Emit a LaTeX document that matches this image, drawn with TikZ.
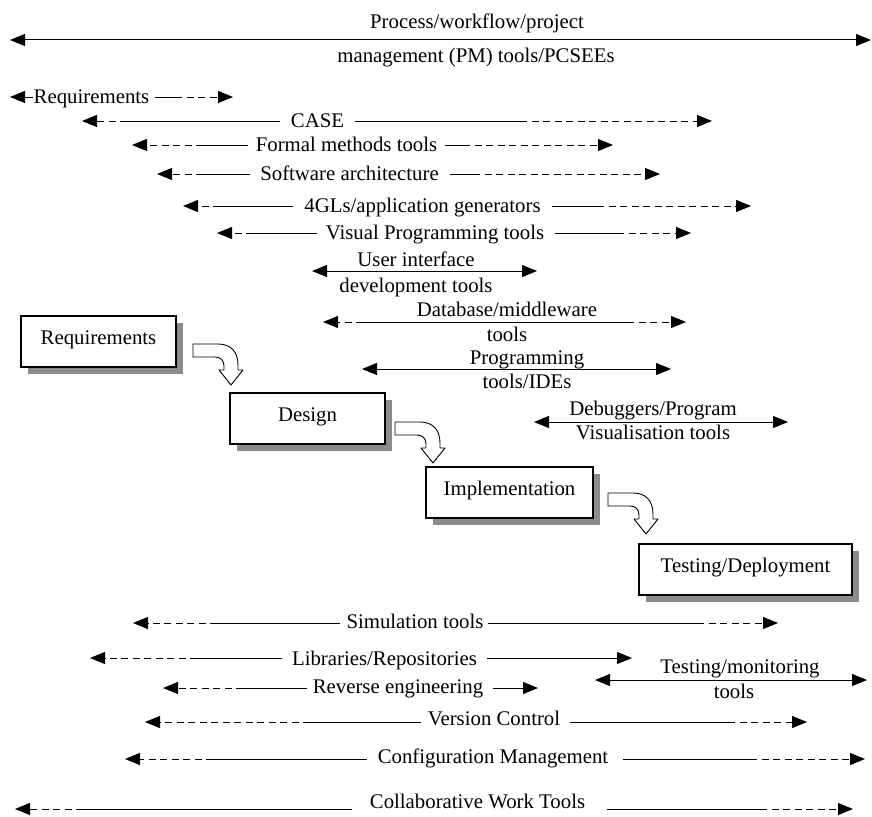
\documentclass[tikz,border=0pt]{standalone}
\usepackage{fontspec}
\setmainfont{Liberation Serif}
\newfontfamily\tnr{Liberation Serif}
\usetikzlibrary{arrows.meta,shadows}
\newcommand\trow[8]{%
 \coordinate (#1L) at (#3,#2); \coordinate (#1Ld) at (#4,#2); \coordinate (#1Ls) at (#5,#2);
 \coordinate (#1Rs) at (#6,#2); \coordinate (#1Rd) at (#7,#2); \coordinate (#1R) at (#8,#2);
 \draw[solidseg] (#1Ls) -- (#1Ld); \draw[dashseg,atip] (#1Ld) -- (#1L);
 \draw[solidseg] (#1Rs) -- (#1Rd); \draw[dashseg,atip] (#1Rd) -- (#1R);}
\begin{document}
\begin{tikzpicture}[x=1pt,y=-1pt,
  lbl/.style={font=\tnr\fontsize{20.8}{25}\selectfont, inner sep=0pt, anchor=base},
  solidseg/.style={line width=1pt},
  dashseg/.style={line width=1pt, dash pattern=on 7pt off 4.5pt},
  atip/.style={-{Triangle[length=15pt,width=12pt]}},
  dtip/.style={{Triangle[length=15pt,width=12pt]}-{Triangle[length=15pt,width=12pt]}},
  phase/.style={draw, line width=1.2pt, fill=white, font=\tnr\fontsize{20.8}{25}\selectfont,
    minimum height=51pt, text height=14pt, text depth=9pt, inner sep=0pt,
    drop shadow={shadow xshift=7pt, shadow yshift=-7pt, fill=black!45, opacity=1}},
  bentarrow/.pic={\draw[line width=0.9pt, fill=white, line join=round]
    (0,0) -- (25,0) .. controls (38,0) and (45,8) .. (45,21) -- (45,26) -- (50,26)
    -- (38,41) -- (26,26) -- (31,26) -- (31,22) .. controls (31,16) and (27,13) .. (22,13)
    -- (0,13) -- cycle;}
]
\fill[white] (0,0) rectangle (872,816);
\useasboundingbox (0,0) rectangle (872,816);

% PM tools
\node[lbl] (pm1) at (477,29) {Process/workflow/project};
\node[lbl] (pm2) at (476,63) {management (PM) tools/PCSEEs};
\coordinate (pmL) at (10,40); \coordinate (pmR) at (871,40);
\draw[solidseg,dtip] (pmL) -- (pmR);

% single-line tool rows
\node[lbl] (req) at (91.5,103.5) {Requirements};
\trow{req}{97}{10}{27}{33}{155}{175}{233}
\node[lbl] (case) at (317.5,127.5) {CASE};
\trow{case}{121}{82}{127}{280}{355}{520}{712}
\node[lbl] (fm) at (346.5,151.5) {Formal methods tools};
\trow{fm}{145}{132}{203}{248}{445}{463}{613}
\node[lbl] (sa) at (349.5,180.5) {Software architecture};
\trow{sa}{174}{157}{203}{250}{450}{473}{660}
\node[lbl] (fgl) at (422.5,212.5) {4GLs/application generators};
\trow{fgl}{206}{183}{220}{293}{552}{597}{751}
\node[lbl] (vp) at (435,239.5) {Visual Programming tools};
\trow{vp}{233}{217}{253}{317}{555}{617}{691}

% two-line rows
\node[lbl] (ui1) at (416,266) {User interface};
\node[lbl] (ui2) at (416,292) {development tools};
\coordinate (uiL) at (312,271); \coordinate (uiR) at (537,271);
\draw[solidseg,dtip] (uiL) -- (uiR);

\node[lbl] (db1) at (507,316.5) {Database/middleware};
\node[lbl] (db2) at (507,341.5) {tools};
\coordinate (dbL) at (323,322); \coordinate (dbLd) at (363,322);
\coordinate (dbRd) at (627,322); \coordinate (dbR) at (686,322);
\draw[dashseg,atip] (dbLd) -- (dbL);
\draw[solidseg] (dbLd) -- (dbRd);
\draw[dashseg,atip] (dbRd) -- (dbR);

\node[lbl] (pr1) at (527,364) {Programming};
\node[lbl] (pr2) at (527,388) {tools/IDEs};
\coordinate (prL) at (362,369); \coordinate (prR) at (671,369);
\draw[solidseg,dtip] (prL) -- (prR);

\node[lbl] (dg1) at (653,415) {Debuggers/Program};
\node[lbl] (dg2) at (653,439) {Visualisation tools};
\coordinate (dgL) at (534,422); \coordinate (dgR) at (788,422);
\draw[solidseg,dtip] (dgL) -- (dgR);

% phases
\node[phase, minimum width=155pt] (preq) at (98.5,341.5) {Requirements};
\node[phase, minimum width=155pt] (pdes) at (307.5,418.5) {Design};
\node[phase, minimum width=167pt] (pimp) at (509.5,492.5) {Implementation};
\node[phase, minimum width=213pt] (ptest) at (745.5,569.5) {Testing/Deployment};
\pic at (193,344) {bentarrow};
\pic at (395,422) {bentarrow};
\pic at (608,493) {bentarrow};

% bottom rows
\node[lbl] (sim) at (415,628) {Simulation tools};
\trow{sim}{623}{133}{217}{340}{488}{697}{778}
\node[lbl] (lib) at (384.5,665) {Libraries/Repositories};
\trow{lib}{658}{90}{197}{282}{487}{615}{632}
\node[lbl] (rev) at (398,693) {Reverse engineering};
\trow{rev}{688}{163}{243}{307}{493}{520}{538}

\node[lbl] (tm1) at (740,673) {Testing/monitoring};
\node[lbl] (tm2) at (734,698) {tools};
\coordinate (tmL) at (595,680); \coordinate (tmR) at (867,680);
\draw[solidseg,dtip] (tmL) -- (tmR);

\node[lbl] (vc) at (494,725) {Version Control};
\trow{vc}{722}{145}{310}{421}{570}{728}{807}
\node[lbl] (cm) at (493,763) {Configuration Management};
\trow{cm}{759}{125}{213}{367}{623}{750}{865}
\node[lbl] (cwt) at (477.5,808) {Collaborative Work Tools};
\trow{cwt}{809}{15}{83}{352}{607}{760}{853}
\end{tikzpicture}
\end{document}
